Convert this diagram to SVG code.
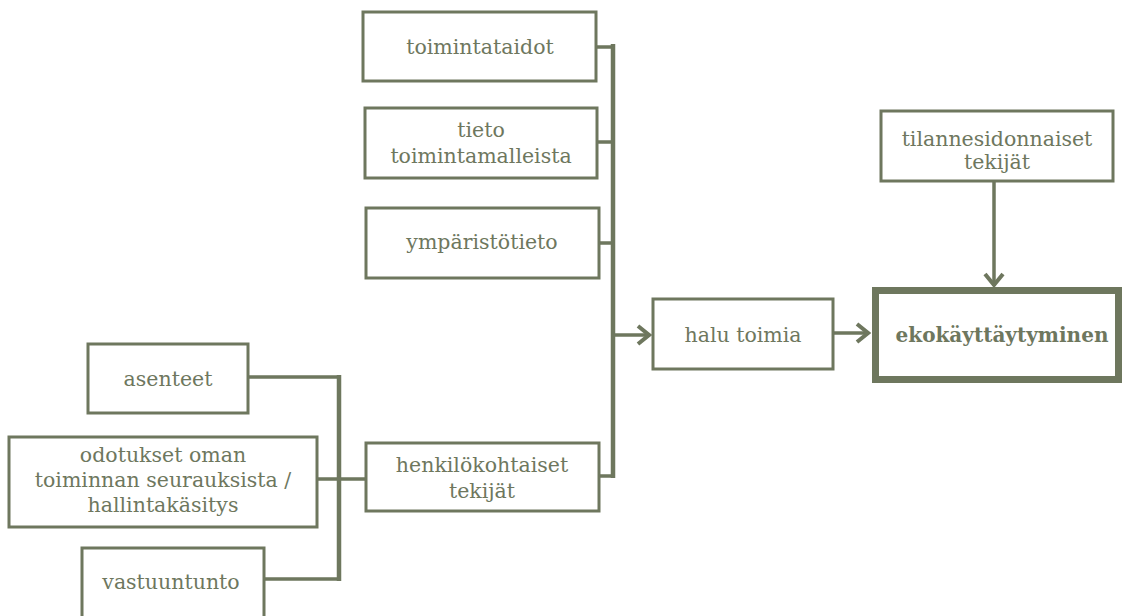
<svg xmlns="http://www.w3.org/2000/svg" width="1125" height="616" viewBox="0 0 1125 616">
<defs>
<style>
.box{fill:#fff;stroke:#6e775e;stroke-width:3}
.t{font-family:"DejaVu Serif","Liberation Serif",serif;font-size:20.5px;fill:#6e775e;text-anchor:middle}
.b{font-weight:bold;font-size:20px}
.ln{fill:none;stroke:#6e775e;stroke-width:4.5}
.st{fill:none;stroke:#6e775e;stroke-width:3.5}
</style>
<marker id="ar" viewBox="0 0 20 22" refX="18" refY="11" markerWidth="20" markerHeight="22" markerUnits="userSpaceOnUse" orient="auto">
<path d="M6,2 L17,11 L6,20" fill="none" stroke="#6e775e" stroke-width="4"/>
</marker>
</defs>
<rect width="1125" height="616" fill="#fff"/>
<g id="connectors">
<path class="st" d="M596,47 H613 M597,142 H613 M599,243 H613 M599,476 H613"/>
<path class="ln" d="M613,44 V478"/>
<path class="st" d="M613,335 H650" marker-end="url(#ar)"/>
<path class="st" d="M248,377 H339 M317,479 H365 M264,579 H339"/>
<path class="ln" d="M339,375 V581"/>
<path class="st" d="M833,333 H869" marker-end="url(#ar)"/>
<path class="st" d="M994,181 V286" marker-end="url(#ar)"/>
</g>
<g id="n-toimintataidot"><rect class="box" x="363" y="12" width="233" height="69"/><text class="t" x="480" y="54">toimintataidot</text></g>
<g id="n-tieto"><rect class="box" x="365" y="108" width="232" height="70"/><text class="t" x="481" y="137">tieto</text><text class="t" x="481" y="163">toimintamalleista</text></g>
<g id="n-ymparisto"><rect class="box" x="366" y="208" width="233" height="70"/><text class="t" x="482" y="249">ympäristötieto</text></g>
<g id="n-henkilo"><rect class="box" x="366" y="443" width="233" height="68"/><text class="t" x="482" y="472">henkilökohtaiset</text><text class="t" x="482" y="498">tekijät</text></g>
<g id="n-halu"><rect class="box" x="653" y="299" width="180" height="70"/><text class="t" x="743" y="342">halu toimia</text></g>
<g id="n-eko"><rect x="875.5" y="290.5" width="243" height="89" fill="#fff" stroke="#6e775e" stroke-width="7"/><text class="t b" x="1002" y="342">ekokäyttäytyminen</text></g>
<g id="n-tilanne"><rect class="box" x="881" y="111" width="232" height="70"/><text class="t" x="997" y="146">tilannesidonnaiset</text><text class="t" x="997" y="169">tekijät</text></g>
<g id="n-asenteet"><rect class="box" x="88" y="344" width="160" height="69"/><text class="t" x="168" y="386">asenteet</text></g>
<g id="n-odotukset"><rect class="box" x="9" y="437" width="308" height="90"/><text class="t" x="163" y="462">odotukset oman</text><text class="t" x="163" y="487">toiminnan seurauksista /</text><text class="t" x="163" y="512">hallintakäsitys</text></g>
<g id="n-vastuu"><rect class="box" x="82" y="548" width="182" height="70"/><text class="t" x="171" y="589">vastuuntunto</text></g>
</svg>
